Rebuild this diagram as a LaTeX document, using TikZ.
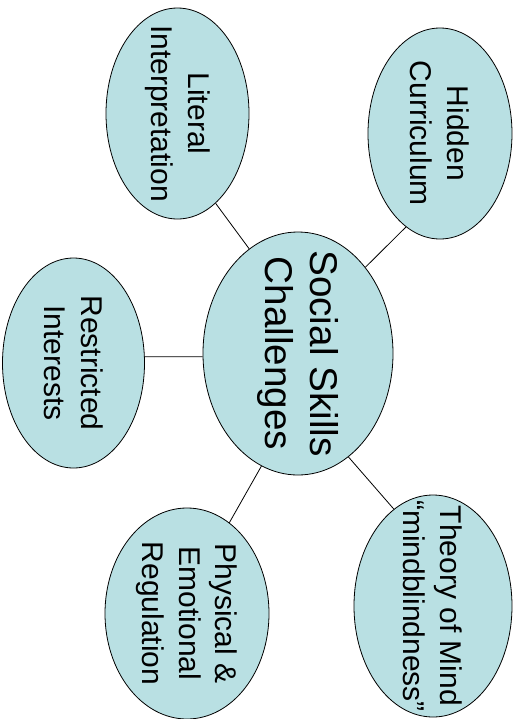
\documentclass[tikz,border=0pt]{standalone}
\usepackage{fontspec}
\setmainfont{Liberation Sans}
\usetikzlibrary{shapes.geometric}
\definecolor{bubblefill}{RGB}{185,224,227}

\begin{document}
\begin{tikzpicture}[x=0.75pt,y=-0.75pt,
    bubble/.style={draw, ellipse, fill=bubblefill, line width=0.6pt, inner sep=0pt},
    words/.style={rotate=-90, align=center, inner sep=0pt, font=\fontsize{22.5}{27.5}\selectfont}]
      \useasboundingbox (0,0) rectangle (523,719);
      \node (soc) at (298,353.5) [bubble, minimum width=142.5pt, minimum height=182.25pt] {};
      \node (lit) at (177.5,113.5) [bubble, minimum width=107.25pt, minimum height=158.25pt] {};
      \node (hid) at (440,133.5) [bubble, minimum width=108pt, minimum height=158.25pt] {};
      \node (res) at (73.5,363) [bubble, minimum width=106.5pt, minimum height=157.5pt] {};
      \node (phy) at (187,613.5) [bubble, minimum width=123pt, minimum height=158.25pt] {};
      \node (tom) at (433,606) [bubble, minimum width=118.5pt, minimum height=166.5pt] {};
      \draw[line width=0.6pt]
      (lit.-67) to (soc.115)
      (hid.-110) to (soc.52)
      (res.5) to (soc.182)
      (soc.-108) to (phy.65)
      (soc.-64) to (tom.112);
      \node (socT) at (soc) [words, font=\fontsize{29}{34}\selectfont] {Social Skills\\Challenges};
      \node (litT) at (lit) [words] {Literal\\Interpretation};
      \node (hidT) at (hid) [words] {Hidden\\Curriculum};
      \node (resT) at (res) [words] {Restricted\\Interests};
      \node (phyT) at (phy) [words] {Physical \&\\Emotional\\Regulation};
      \node (tomT) at (tom) [words] {Theory of Mind\\“mindblindness”};
    \end{tikzpicture}
\end{document}
